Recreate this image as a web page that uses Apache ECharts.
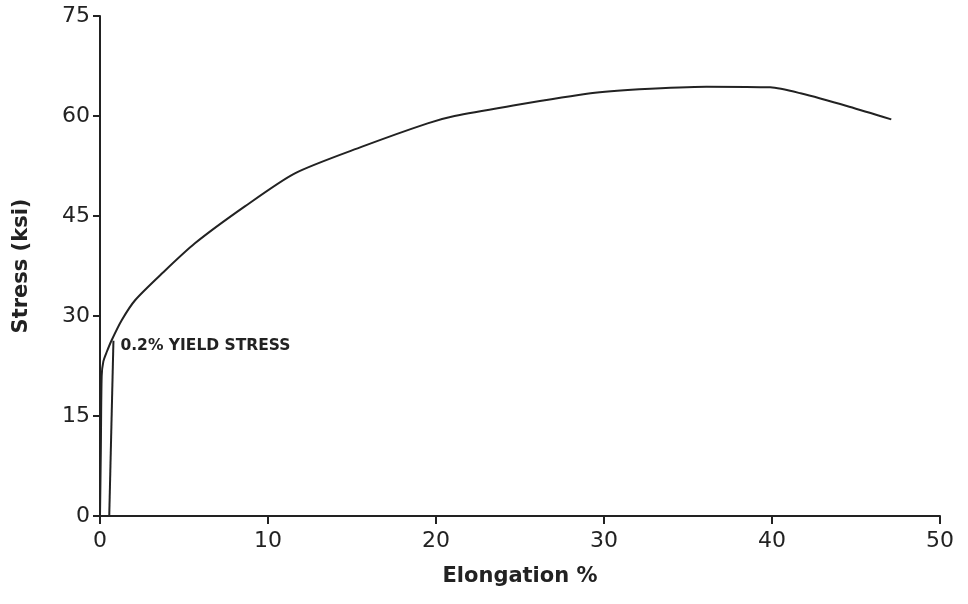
<!DOCTYPE html>
<html>
<head>
<meta charset="utf-8">
<script src="https://cdn.jsdelivr.net/npm/echarts@6/dist/echarts.min.js"></script>
<style>
  html, body { margin: 0; padding: 0; background: #fff; }
  #chart { width: 968px; height: 604px; }
</style>
</head>
<body>
<div id="chart"></div>
<script>
// stress-strain curve
const elongation = [0, 0.05, 0.1, 0.2, 0.4, 0.7, 1.3, 2.1, 3.7, 5.65, 8.6, 11.6, 15.6, 19.5, 21.1, 24.2, 29.2, 32.1, 36.1, 39.9, 41.7, 44.6, 47.1];
const stress = [0, 10, 21, 23.2, 24.6, 26.4, 29.4, 32.4, 36.4, 40.9, 46.4, 51.4, 55.4, 58.9, 60.0, 61.4, 63.4, 64.0, 64.4, 64.3, 63.4, 61.4, 59.5];

// 0.2% offset line
const offsetX = [0.55, 0.8];
const offsetY = [0, 26.3];

const xTicks = [0, 10, 20, 30, 40, 50];
const yTicks = [0, 15, 30, 45, 60, 75];

const ink = '#222';
const chart = echarts.init(document.getElementById('chart'));

const zip = (a, b) => a.map((v, i) => [v, b[i]]);

chart.setOption({
  animation: false,
  backgroundColor: '#fff',
  grid: { left: 100, right: 28, top: 16, bottom: 88 },
  xAxis: {
    type: 'value',
    min: xTicks[0],
    max: xTicks[xTicks.length - 1],
    interval: 10,
    name: 'Elongation %',
    nameLocation: 'middle',
    nameGap: 50,
    nameTextStyle: { fontFamily: 'DejaVu Sans', fontWeight: 'bold', fontSize: 21, color: ink },
    axisLine: { lineStyle: { color: ink, width: 2 } },
    axisTick: { inside: false, length: 8, lineStyle: { color: ink, width: 2 } },
    axisLabel: { fontFamily: 'DejaVu Sans', fontSize: 22, color: ink, margin: 14 },
    splitLine: { show: false }
  },
  yAxis: {
    type: 'value',
    min: yTicks[0],
    max: yTicks[yTicks.length - 1],
    interval: 15,
    name: 'Stress (ksi)',
    nameLocation: 'middle',
    nameGap: 68,
    nameTextStyle: { fontFamily: 'DejaVu Sans', fontWeight: 'bold', fontSize: 21, color: ink },
    axisLine: { show: true, lineStyle: { color: ink, width: 2 } },
    axisTick: { show: true, length: 7, lineStyle: { color: ink, width: 2 } },
    axisLabel: { fontFamily: 'DejaVu Sans', fontSize: 22, color: ink, margin: 10 },
    splitLine: { show: false }
  },
  series: [
    {
      type: 'line',
      data: zip(elongation, stress),
      showSymbol: false,
      smooth: 0.25,
      lineStyle: { color: ink, width: 2 }
    },
    {
      type: 'line',
      data: zip(offsetX, offsetY).map((p, i) => i === offsetX.length - 1 ? {
        value: p,
        label: {
          show: true,
          position: 'right',
          offset: [2, 5],
          formatter: '0.2% YIELD STRESS',
          fontFamily: 'DejaVu Sans',
          fontWeight: 'bold',
          fontSize: 15.5,
          color: ink
        }
      } : p),
      showSymbol: true,
      symbolSize: 0,
      lineStyle: { color: ink, width: 2 }
    }
  ]
});
</script>
</body>
</html>
